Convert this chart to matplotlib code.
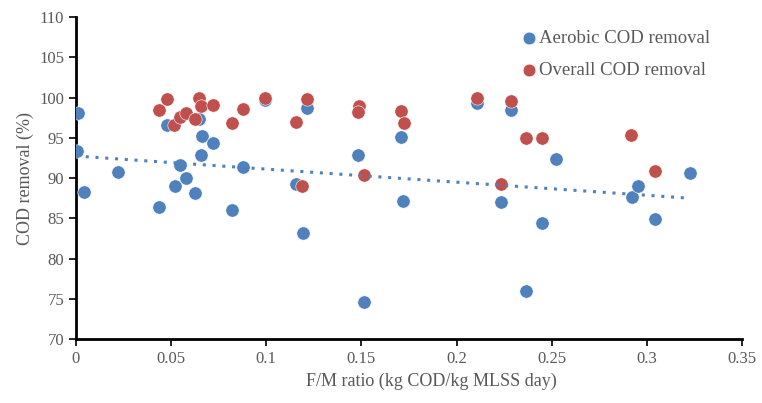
import matplotlib.pyplot as plt
import numpy as np

# Dados
fm_aerobic = [0.001, 0.0007, 0.0044, 0.022, 0.0438, 0.0477, 0.0519, 0.0547, 0.0578, 0.0625,
              0.0648, 0.066, 0.0657, 0.072, 0.082, 0.0878, 0.0992, 0.1216, 0.1155, 0.1191,
              0.1481, 0.1513, 0.171, 0.172, 0.2106, 0.2286, 0.2235, 0.2365, 0.2449, 0.2522,
              0.292, 0.2954, 0.3044, 0.3228]
cod_aerobic = [98.1, 93.4, 88.3, 90.8, 86.4, 96.6, 89.05, 91.6, 90.05, 88.1,
               97.3, 95.25, 92.8, 94.4, 86.0, 91.4, 99.65, 98.75, 89.2, 83.2,
               92.9, 74.6, 95.05, 87.2, 99.3, 98.4, 87.0, 76.0, 84.4, 92.4,
               87.7, 89.05, 84.85, 90.6]

fm_overall = [0.0438, 0.0478, 0.0517, 0.0547, 0.0578, 0.0627, 0.0646, 0.0657, 0.072, 0.082,
              0.0878, 0.0992, 0.1216, 0.1155, 0.119, 0.1487, 0.1482, 0.1513, 0.171, 0.1722,
              0.2106, 0.2286, 0.2233, 0.2365, 0.2447, 0.2918, 0.3044]
cod_overall = [98.5, 99.8, 96.6, 97.6, 98.1, 97.3, 99.95, 98.95, 99.1, 96.8,
               98.6, 99.95, 99.8, 96.9, 89.05, 99.0, 98.2, 90.4, 98.3, 96.8,
               99.95, 99.55, 89.3, 94.95, 94.95, 95.35, 90.9]

blue = '#4F81BD'
red = '#C0504D'
cinza = '#595959'

plt.rcParams['font.family'] = ['Liberation Serif', 'DejaVu Serif']

fig = plt.figure(figsize=(7.62, 4.03), dpi=100)
ax = fig.add_axes([0.0997, 0.1588, 0.874, 0.799])

ax.scatter(fm_aerobic, cod_aerobic, s=92, color=blue, edgecolors='white', linewidths=0.4,
           label='Aerobic COD removal', zorder=3)
ax.scatter(fm_overall, cod_overall, s=92, color=red, edgecolors='white', linewidths=0.4,
           label='Overall COD removal', zorder=4)

# Linha de tendência linear (série aeróbica)
coef = np.polyfit(fm_aerobic, cod_aerobic, 1)
xt = np.array([0, max(fm_aerobic)])
ax.plot(xt, np.polyval(coef, xt), color=blue, linestyle=(0, (1, 2.2)), linewidth=2.2, zorder=5)

ax.set_xlim(0, 0.35)
ax.set_ylim(70, 110)
ax.set_xticks(np.arange(0, 0.351, 0.05))
ax.set_xticklabels(['0', '0.05', '0.1', '0.15', '0.2', '0.25', '0.3', '0.35'])
ax.set_yticks(range(70, 111, 5))

for s in ['top', 'right']:
    ax.spines[s].set_visible(False)
for s in ['left', 'bottom']:
    ax.spines[s].set_linewidth(2)
    ax.spines[s].set_color('black')
ax.tick_params(direction='out', length=5, width=1.2, colors='black', labelcolor=cinza, labelsize=12)

ax.set_xlabel('F/M ratio (kg COD/kg MLSS day)', color=cinza, fontsize=13)
ax.xaxis.set_label_coords(0.534, -0.105)
ax.set_ylabel('COD removal (%)', color=cinza, fontsize=13)

leg = ax.legend(loc='upper right', bbox_to_anchor=(0.9775, 1.012), frameon=False, fontsize=13.5,
                handletextpad=0.0, handlelength=1.1, labelspacing=0.78, markerscale=0.95,
                labelcolor=cinza)

plt.savefig('out.png', dpi=100)
